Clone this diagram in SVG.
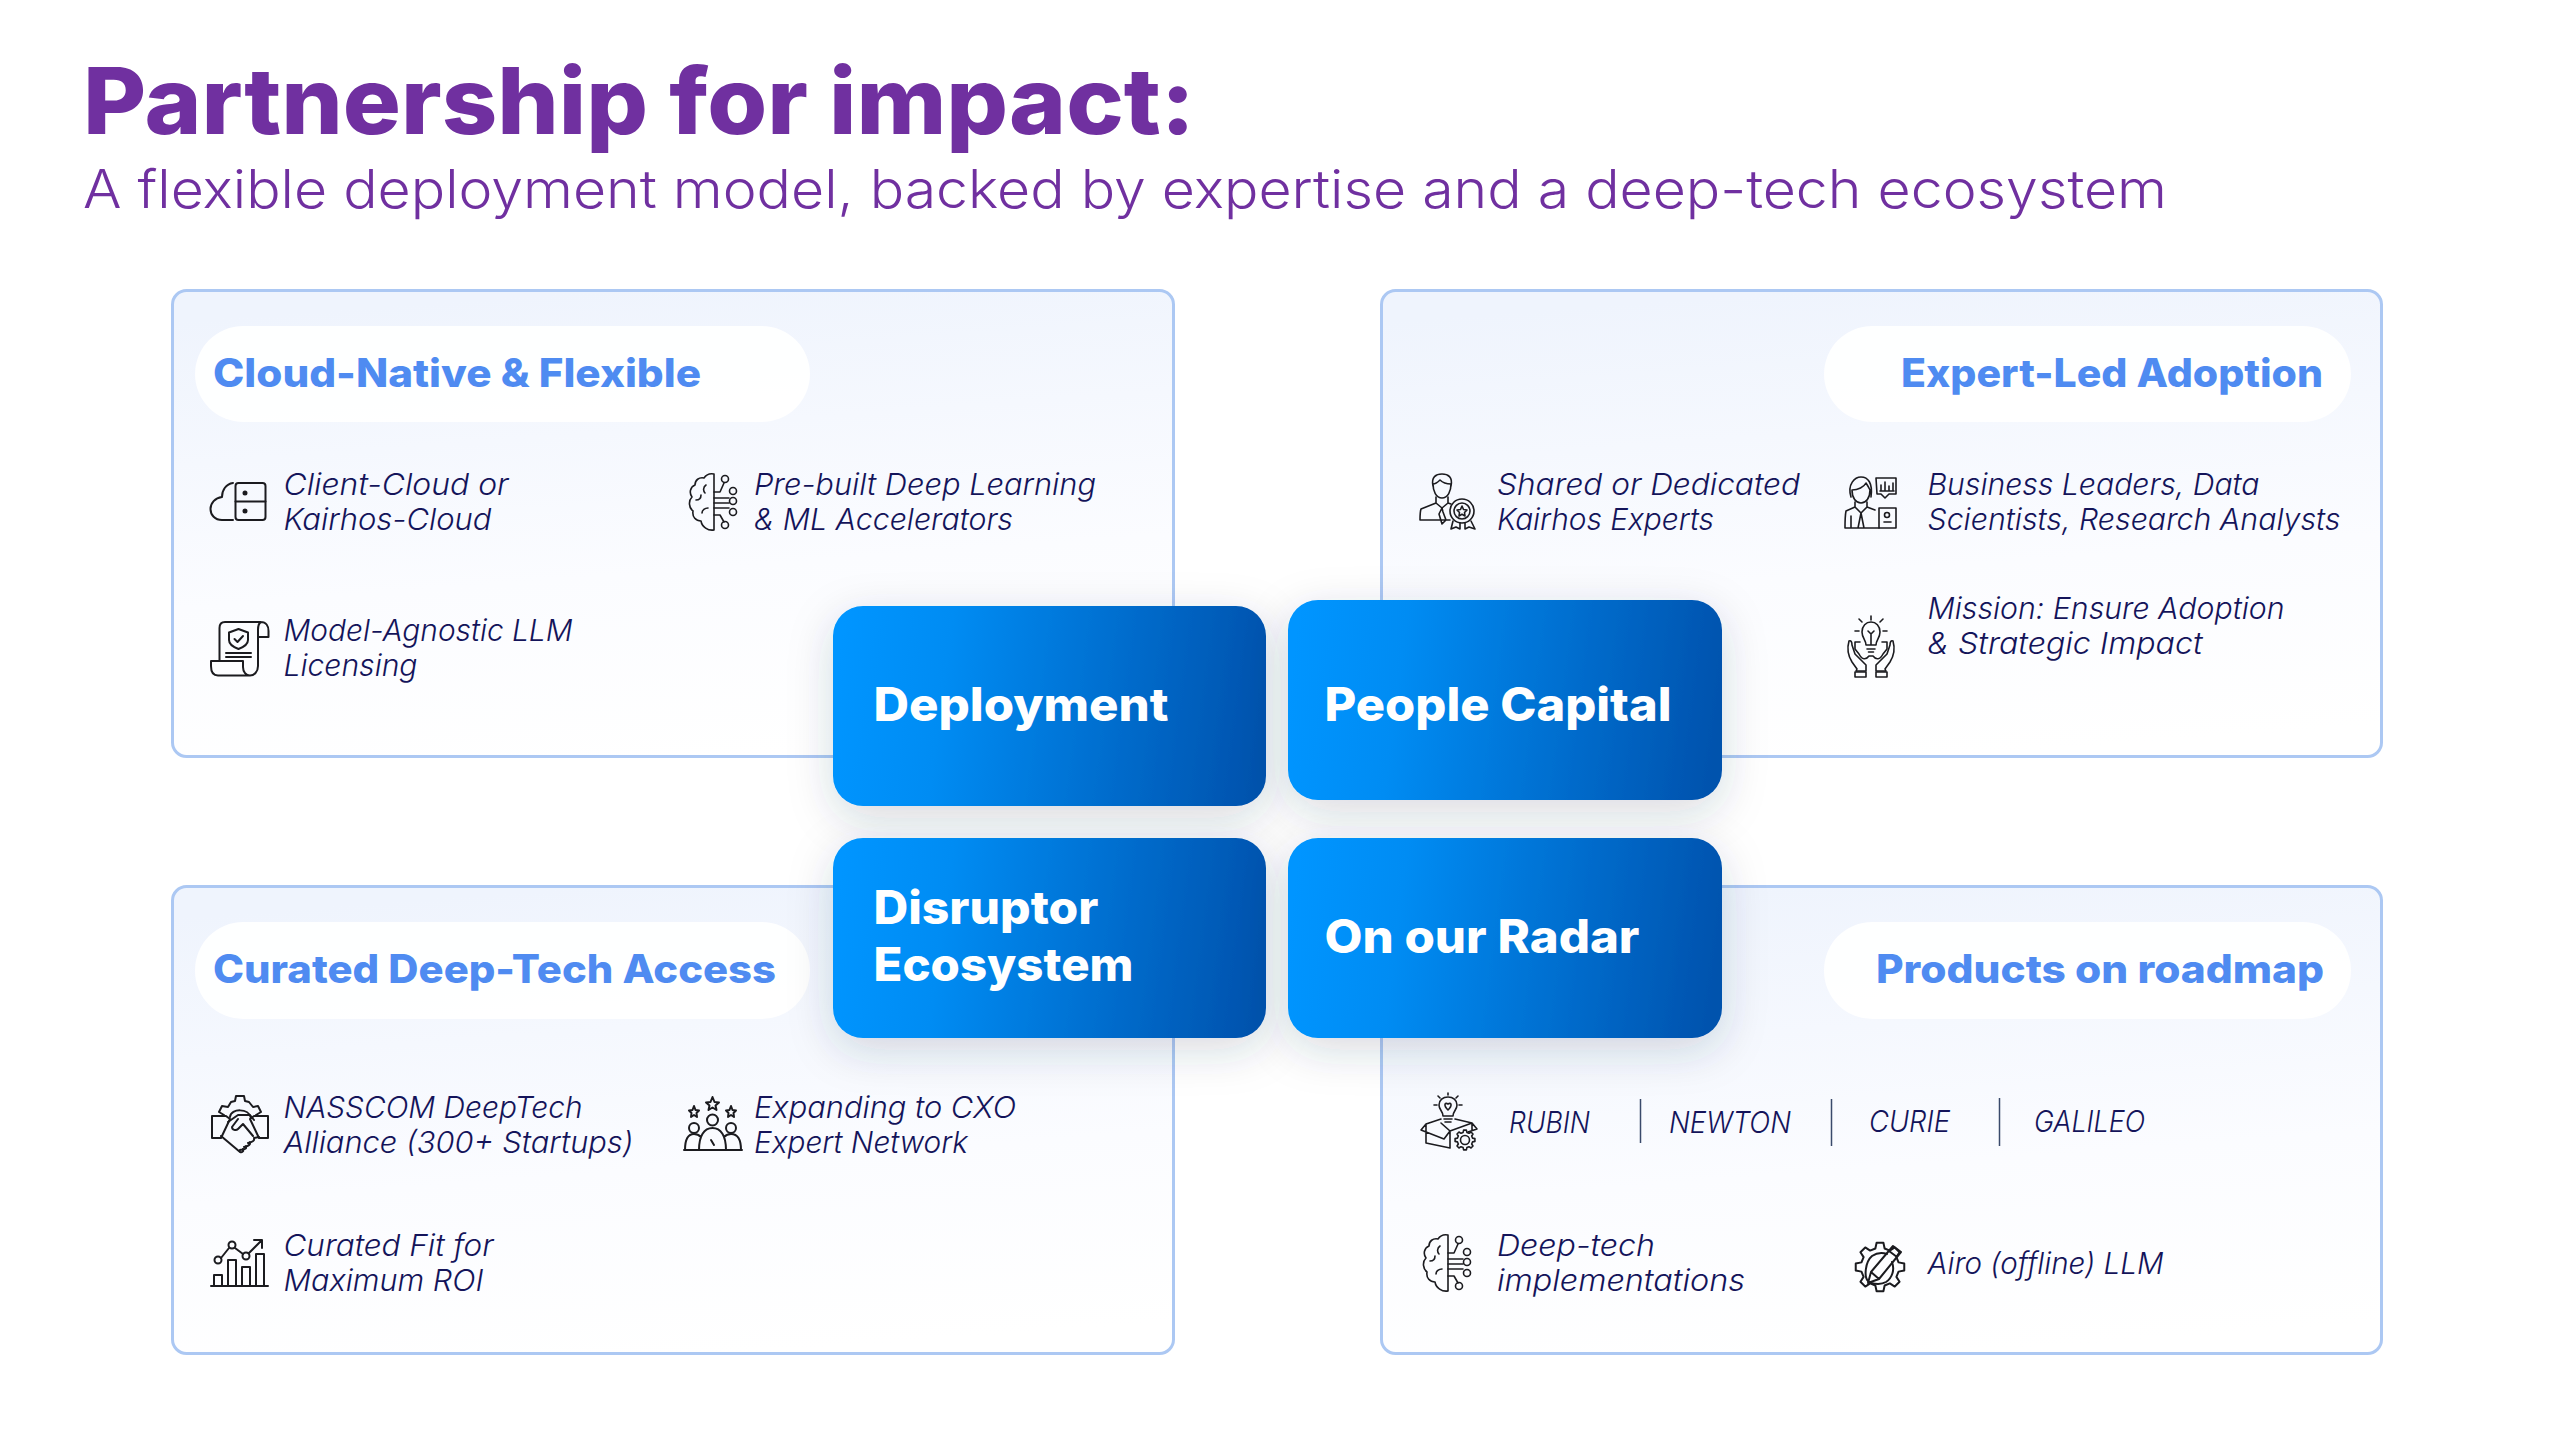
<svg xmlns="http://www.w3.org/2000/svg" width="2560" height="1440" viewBox="0 0 2560 1440">
<style>
text{font-family:"Inter","Liberation Sans",sans-serif}
.title{font-size:92px;font-weight:800;fill:#7030a0}
.sub{font-size:53px;font-weight:300;fill:#7030a0}
.pill{font-size:39px;font-weight:800;fill:#4f8bf1}
.box{font-size:46px;font-weight:800;fill:#fff}
.item{font-size:30px;font-weight:300;font-style:italic;fill:#14145a}
.card{fill:url(#cardFill);stroke:#acc8f3;stroke-width:3}
.pillbg{fill:#fff;fill-opacity:.92}
.nodebox{fill:url(#boxFill);filter:url(#shadow)}
.ic{fill:none;stroke:#1b1b1f;stroke-width:2;stroke-linejoin:round;stroke-linecap:round}
.thin{stroke-width:1.600}
.ns{vector-effect:non-scaling-stroke}
.sep{stroke:#3a4a6b;stroke-width:1.500}
</style>
<defs>
<linearGradient id="cardFill" x1="0.42" y1="0" x2="0.58" y2="1"><stop offset="0" stop-color="#eff4fd"/><stop offset="0.6" stop-color="#fbfcff"/><stop offset="1" stop-color="#ffffff"/></linearGradient>
<linearGradient id="boxFill" x1="0" y1="0.47" x2="1" y2="0.53"><stop offset="0" stop-color="#0095ff"/><stop offset="0.25" stop-color="#008cf3"/><stop offset="1" stop-color="#0052ad"/></linearGradient>
<filter id="shadow" x="-25%" y="-40%" width="150%" height="190%"><feDropShadow dx="0" dy="12" stdDeviation="22" flood-color="#2a3550" flood-opacity="0.18"/></filter>
<path id="gear" class="ns" d="M-1.89-7.57L-1.39-9.9H1.39L1.89-7.57L4.02-6.69L6.02-7.98L7.98-6.02L6.69-4.02L7.57-1.89L9.9-1.39V1.39L7.57 1.89L6.69 4.02L7.98 6.02L6.02 7.98L4.02 6.69L1.89 7.57L1.39 9.9H-1.39L-1.89 7.57L-4.02 6.69L-6.02 7.98L-7.98 6.02L-6.69 4.02L-7.57 1.89L-9.9 1.39V-1.39L-7.57-1.89L-6.69-4.02L-7.98-6.02L-6.02-7.98L-4.02-6.69Z"/>
<g id="brain">
<path d="M25 0V56M25 0C20-1 17 1 15 4C10 3 6 6 6 11C1 13 0 19 3 23C-1 27 0 34 4 37C3 43 7 47 12 47C13 53 19 57 25 56"/>
<path d="M17 11C14 13 14 17 16 19M7 26C10 26 12 24 12 21M19 34C16 34 13 36 13 39"/>
<path d="M25 18H31L35 9M25 24H40M25 29H40M25 34H40M25 41H31L35 48"/>
<circle cx="36" cy="5" r="3.500"/><circle cx="44" cy="17" r="3.500"/><circle cx="44" cy="27" r="3.500"/><circle cx="44" cy="38" r="3.500"/><circle cx="36" cy="51" r="3.500"/>
</g>
</defs>
<rect width="2560" height="1440" fill="#fff"/>
<g id="header">
<text class="title" x="83" y="134" textLength="1112" lengthAdjust="spacingAndGlyphs">Partnership for impact:</text>
<text class="sub" x="83" y="208" textLength="2084" lengthAdjust="spacingAndGlyphs">A flexible deployment model, backed by expertise and a deep-tech ecosystem</text>
</g>

<g id="card-deployment">
<rect class="card" x="172.500" y="290.500" width="1001" height="466" rx="14"/>
<rect class="pillbg" x="195" y="326" width="615" height="96" rx="48"/>
<text class="pill" x="213" y="387" textLength="488" lengthAdjust="spacingAndGlyphs">Cloud-Native &amp; Flexible</text>
<g class="ic" id="icon-cloud">
<rect x="235.500" y="483" width="30" height="37" rx="3"/><path d="M235.500 501.500H265.500M233 483C226 484 222 490 222 497C215 498 210.500 503 210.500 509C210.500 515 215 520 222 520H233"/>
<circle cx="245" cy="493" r="1.500" fill="#1b1b1f"/><circle cx="245" cy="511" r="1.500" fill="#1b1b1f"/>
</g>
<text class="item" x="283.500" y="494.500" textLength="225" lengthAdjust="spacingAndGlyphs">Client-Cloud or</text>
<text class="item" x="283.500" y="529.500" textLength="208" lengthAdjust="spacingAndGlyphs">Kairhos-Cloud</text>
<g class="ic thin" id="icon-brain"><use href="#brain" transform="translate(689 474)"/></g>
<text class="item" x="754" y="494.500" textLength="342" lengthAdjust="spacingAndGlyphs">Pre-built Deep Learning</text>
<text class="item" x="754" y="529.500" textLength="259" lengthAdjust="spacingAndGlyphs">&amp; ML Accelerators</text>
<g class="ic" id="icon-scroll">
<path d="M219.500 661V628Q219.500 622 225 622H261C266 622 268.500 626 268.500 631V637H258M258 630C258 626 259 623 261 622M258 630V666C258 672 254 675.500 250 675.500H218C213 675.500 211 671 211 666V661H243V667C243 672 246 675.500 250 675.500"/>
<path d="M238.500 629L248 632.500V640C248 644 244 647 238.500 649C233 647 229 644 229 640V632.500ZM234.500 639L237.500 642L243 636M226 653H251M226 657H251"/>
</g>
<text class="item" x="283.500" y="640.500" textLength="289" lengthAdjust="spacingAndGlyphs">Model-Agnostic LLM</text>
<text class="item" x="283.500" y="675.500" textLength="134" lengthAdjust="spacingAndGlyphs">Licensing</text>
</g>

<g id="card-people">
<rect class="card" x="1381.500" y="290.500" width="1000" height="466" rx="14"/>
<rect class="pillbg" x="1824" y="326" width="527" height="96" rx="48"/>
<text class="pill" x="1901" y="387" textLength="422" lengthAdjust="spacingAndGlyphs">Expert-Led Adoption</text>
<g class="ic thin" id="icon-expert">
<path d="M1433 486C1431 477 1436 474 1442 474C1448 474 1453 477 1451 486M1433 484C1433 491 1436 498 1442 498C1448 498 1451 491 1451 484C1446 484 1442 482 1440 480C1438 482 1435 484 1433 484"/>
<path d="M1436 497V503L1421 509C1420 512 1420 516 1420 520H1450M1448 497V503L1451 504M1436 503L1442 508L1448 503M1442 508L1439 514L1442 524L1446 520L1443 512L1442 508"/>
<circle cx="1462" cy="511" r="12"/><circle cx="1462" cy="511" r="8"/>
<path d="M1462 506L1463.500 509.500L1467 510L1464.500 512.500L1465 516L1462 514.300L1459 516L1459.500 512.500L1457 510L1460.500 509.500Z"/>
<path d="M1453 521L1451 529L1456 527L1460 529L1460 523M1465 523L1465 529L1469 527L1475 529L1471 521"/>
</g>
<text class="item" x="1497" y="494.500" textLength="303" lengthAdjust="spacingAndGlyphs">Shared or Dedicated</text>
<text class="item" x="1497" y="529.500" textLength="217" lengthAdjust="spacingAndGlyphs">Kairhos Experts</text>
<g class="ic thin" id="icon-business">
<path d="M1851 497C1847 484 1855 477 1861 477C1868 477 1873 483 1871 497M1852 490C1858 490 1864 487 1866 483C1868 486 1869 488 1870 490C1870 498 1866 503 1861 503C1856 503 1852 498 1852 490"/>
<path d="M1876 478H1896V494H1889L1885 498L1881 494H1877Z"/><path d="M1881 490V485M1885 490V482M1889 490V486M1893 490V483M1880 491H1894"/>
<path d="M1855 502V507L1846 511C1845 516 1845 522 1845 528H1879M1867 502V507L1875 510M1855 507L1861 513L1867 507M1861 513L1858 528M1861 513L1864 528M1851 516V528"/>
<rect x="1879" y="508" width="17" height="20"/><circle cx="1887" cy="515" r="2.500"/><path d="M1884 522H1891"/>
</g>
<text class="item" x="1927.500" y="494.500" textLength="332" lengthAdjust="spacingAndGlyphs">Business Leaders, Data</text>
<text class="item" x="1927.500" y="529.500" textLength="413" lengthAdjust="spacingAndGlyphs">Scientists, Research Analysts</text>
<g class="ic thin" id="icon-hands">
<path d="M1866 645C1866 640 1862 638 1862 632C1862 626 1866 622 1871 622C1876 622 1880 626 1880 632C1880 638 1876 640 1876 645ZM1867 649H1875M1868.500 652H1873.500M1871 645V634M1868 631L1871 634L1874 631"/>
<path d="M1871 616V620M1859 619L1862 622M1883 619L1880 622M1855 631H1859M1883 631H1887"/>
<path d="M1860 642H1855V649L1859 654C1862 660 1866 660 1869 656H1873C1876 660 1880 660 1883 654L1887 649V642H1882"/>
<path d="M1857 669L1852 662C1847 654 1847 648 1849 641C1851 640 1852 642 1852 645L1855 654L1866 665V671H1856Z"/>
<path d="M1885 669L1890 662C1895 654 1895 648 1893 641C1891 640 1890 642 1890 645L1887 654L1876 665V671H1886Z"/>
<path d="M1855 672H1866V677H1855ZM1876 672H1887V677H1876Z"/>
</g>
<text class="item" x="1927.500" y="618.500" textLength="357" lengthAdjust="spacingAndGlyphs">Mission: Ensure Adoption</text>
<text class="item" x="1927.500" y="653.500" textLength="275" lengthAdjust="spacingAndGlyphs">&amp; Strategic Impact</text>
</g>

<g id="card-disruptor">
<rect class="card" x="172.500" y="886.500" width="1001" height="467" rx="14"/>
<rect class="pillbg" x="195" y="922" width="615" height="97" rx="48"/>
<text class="pill" x="213" y="983" textLength="563" lengthAdjust="spacingAndGlyphs">Curated Deep-Tech Access</text>
<g class="ic" id="icon-handshake">
<path d="M224 1115L219 1112L222 1106L228 1107L231 1102L235 1101L236 1096H244L245 1101L249 1102L253 1107L258 1106L261 1112L256 1115"/>
<path d="M230 1117C231 1108 249 1108 251 1118"/>
<path d="M212 1116H226L230 1119L221 1138H212ZM268 1116H254L250 1119L259 1138H268Z"/>
<path d="M228 1122L238 1115H250L254 1120M221 1136L240 1152C242 1153 244 1151 243 1149M240 1150C243 1149 247 1150 246 1146M244 1147C247 1146 251 1146 250 1142M248 1143C252 1142 255 1141 254 1138L259 1137M238 1119L232 1127C232 1130 236 1131 238 1129L243 1124L253 1136"/>
</g>
<text class="item" x="283.500" y="1117.500" textLength="299" lengthAdjust="spacingAndGlyphs">NASSCOM DeepTech</text>
<text class="item" x="283.500" y="1152.500" textLength="350" lengthAdjust="spacingAndGlyphs">Alliance (300+ Startups)</text>
<g class="ic" id="icon-team">
<path d="M712.500 1097L714.500 1102L719 1102.500L715.500 1105.500L716.500 1110L712.500 1107.500L708.500 1110L709.500 1105.500L706 1102.500L710.500 1102Z"/>
<path d="M694 1106L695.500 1110L699 1110.500L696.500 1113L697 1117L694 1115L691 1117L691.500 1113L689 1110.500L692.500 1110Z"/>
<path d="M731 1106L732.500 1110L736 1110.500L733.500 1113L734 1117L731 1115L728 1117L728.500 1113L726 1110.500L729.500 1110Z"/>
<circle cx="712.500" cy="1120" r="5.500"/><circle cx="694" cy="1128" r="5"/><circle cx="731" cy="1128" r="5"/>
<path d="M684 1150H742M685 1150C685 1140 688 1134 694 1134C697 1134 699 1135 701 1137M741 1150C741 1140 738 1134 731 1134C728 1134 726 1135 724 1137M699 1150C699 1136 704 1128 712.500 1128C721 1128 726 1136 726 1150M711 1140L714 1145"/>
</g>
<text class="item" x="754" y="1117.500" textLength="262" lengthAdjust="spacingAndGlyphs">Expanding to CXO</text>
<text class="item" x="754" y="1152.500" textLength="214" lengthAdjust="spacingAndGlyphs">Expert Network</text>
<g class="ic" id="icon-chart">
<path d="M211 1286H268M214 1286V1275H222V1286M228 1286V1260H236V1286M242 1286V1267H250V1286M256 1286V1254H264V1286"/>
<circle cx="218" cy="1260" r="3.500"/><circle cx="232" cy="1245" r="3.500"/><circle cx="246" cy="1256" r="3.500"/>
<path d="M221 1258L229 1248M235 1248L243 1254M249 1253L261 1241M254 1240H262V1248"/>
</g>
<text class="item" x="283.500" y="1255.500" textLength="210" lengthAdjust="spacingAndGlyphs">Curated Fit for</text>
<text class="item" x="283.500" y="1290.500" textLength="200" lengthAdjust="spacingAndGlyphs">Maximum ROI</text>
</g>

<g id="card-radar">
<rect class="card" x="1381.500" y="886.500" width="1000" height="467" rx="14"/>
<rect class="pillbg" x="1824" y="922" width="527" height="97" rx="48"/>
<text class="pill" x="1876" y="983" textLength="448" lengthAdjust="spacingAndGlyphs">Products on roadmap</text>
<g class="ic thin" id="icon-box">
<path d="M1443 1116C1443 1111 1439 1110 1439 1105C1439 1100 1443 1097 1448 1097C1453 1097 1457 1100 1457 1105C1457 1110 1453 1111 1453 1116ZM1444 1119H1452M1445 1122H1451"/>
<path d="M1448 1093V1095M1438 1096L1440 1098M1458 1096L1456 1098M1434 1105H1437M1459 1105H1462M1448 1110C1443 1105 1445 1102 1448 1104C1451 1102 1453 1105 1448 1110"/>
<path d="M1426 1124V1143L1450 1148V1131M1450 1131L1441 1123M1450 1131L1472 1123L1472 1130M1426 1124L1421 1130L1444 1139L1450 1131M1426 1124L1441 1119M1455 1119L1472 1123L1477 1129L1468 1132"/>
<use href="#gear" transform="translate(1465 1140)"/><circle cx="1465" cy="1140" r="4.500"/>
</g>
<text class="item" x="1509" y="1132.500" textLength="81" lengthAdjust="spacingAndGlyphs">RUBIN</text>
<line class="sep" x1="1640.500" y1="1099" x2="1640.500" y2="1143"/>
<text class="item" x="1669" y="1132.500" textLength="122" lengthAdjust="spacingAndGlyphs">NEWTON</text>
<line class="sep" x1="1831.500" y1="1099" x2="1831.500" y2="1146"/>
<text class="item" x="1869" y="1131.500" textLength="81" lengthAdjust="spacingAndGlyphs">CURIE</text>
<line class="sep" x1="1999.500" y1="1098" x2="1999.500" y2="1146"/>
<text class="item" x="2034" y="1131.500" textLength="111" lengthAdjust="spacingAndGlyphs">GALILEO</text>
<g class="ic thin" id="icon-brain2"><use href="#brain" transform="translate(1423 1235)"/></g>
<text class="item" x="1497" y="1255.500" textLength="158" lengthAdjust="spacingAndGlyphs">Deep-tech</text>
<text class="item" x="1497" y="1290.500" textLength="248" lengthAdjust="spacingAndGlyphs">implementations</text>
<g class="ic" id="icon-gearpen">
<use href="#gear" transform="translate(1880 1267) scale(2.450)"/>
<path d="M1868 1281C1864 1277 1865 1262 1872 1256C1878 1252 1884 1253 1887 1254M1892 1262C1895 1270 1892 1278 1886 1282C1881 1285 1875 1284 1871 1283"/>
<path d="M1868 1283L1871 1272L1893 1246L1901 1252L1879 1279ZM1871 1272L1879 1279M1889 1251L1897 1257"/>
</g>
<text class="item" x="1927.500" y="1273.500" textLength="236" lengthAdjust="spacingAndGlyphs">Airo (offline) LLM</text>
</g>

<g id="node-deployment">
<rect class="nodebox" x="833" y="606" width="433" height="200" rx="30"/>
<text class="box" x="873.500" y="721" textLength="295" lengthAdjust="spacingAndGlyphs">Deployment</text>
</g>
<g id="node-people-capital">
<rect class="nodebox" x="1288" y="600" width="434" height="200" rx="30"/>
<text class="box" x="1324.500" y="721" textLength="347" lengthAdjust="spacingAndGlyphs">People Capital</text>
</g>
<g id="node-disruptor">
<rect class="nodebox" x="833" y="838" width="433" height="200" rx="30"/>
<text class="box" x="873.500" y="924" textLength="225" lengthAdjust="spacingAndGlyphs">Disruptor</text>
<text class="box" x="873.500" y="980.500" textLength="260" lengthAdjust="spacingAndGlyphs">Ecosystem</text>
</g>
<g id="node-radar">
<rect class="nodebox" x="1288" y="838" width="434" height="200" rx="30"/>
<text class="box" x="1324.500" y="953" textLength="315" lengthAdjust="spacingAndGlyphs">On our Radar</text>
</g>
</svg>
